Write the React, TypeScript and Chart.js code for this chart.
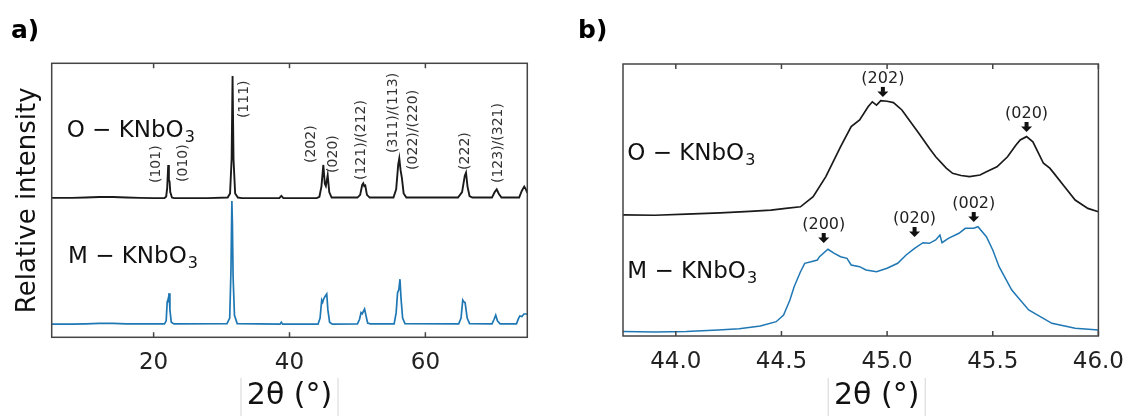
import { useEffect, useRef } from "react";
import { Chart, registerables } from "chart.js";

Chart.register(...registerables);

const FONT = "'DejaVu Sans', 'Liberation Sans', sans-serif";
const H = 416;

// ---------- shared text ----------
const SERIES_NAMES = ["O − KNbO", "M − KNbO"];
const SERIES_SUB = "3";
const X_TITLE = "2θ (°)";
const Y_TITLE = "Relative intensity";
const PANEL_LETTERS = ["a)", "b)"];

// ---------- panel a: full pattern ----------
const A_X_MIN = 5;
const A_X_MAX = 75;
const A_TICKS = [20, 40, 60];
const A_O_OFFSET = 50;
const A_M_OFFSET = 4;
const A_O_X = [5, 8, 10, 12, 14, 16, 18, 20, 21.6, 21.85, 22.0, 22.15, 22.25, 22.35, 22.45, 22.7, 23.0, 28.0, 30.9, 31.25, 31.48, 31.62, 31.76, 32.0, 32.4, 33.0, 38.5, 38.8, 39.1, 44.0, 44.4, 44.7, 44.98, 45.2, 45.35, 45.62, 45.85, 46.2, 50.0, 50.4, 50.7, 50.86, 51.0, 51.15, 51.4, 51.8, 55.3, 55.7, 56.0, 56.16, 56.35, 56.55, 56.8, 57.2, 64.8, 65.4, 65.8, 65.98, 66.2, 66.5, 66.9, 69.8, 70.2, 70.5, 70.8, 71.2, 73.8, 74.2, 74.55, 74.8, 75.0];
const A_O_Y = [0.9, 0.9, 1.0, 1.2, 1.2, 1.0, 0.9, 0.8, 0.8, 1.4, 4.5, 12.9, 7.5, 6.8, 3.0, 1.0, 0.8, 0.8, 1.0, 2.5, 15.0, 45.4, 15.0, 2.5, 1.0, 0.8, 0.8, 1.6, 0.8, 0.8, 1.3, 5.0, 12.9, 6.0, 5.2, 9.2, 3.0, 1.0, 1.0, 2.0, 5.6, 6.2, 5.2, 5.4, 2.0, 1.0, 1.0, 4.0, 13.0, 15.3, 11.0, 8.0, 2.5, 1.0, 1.0, 3.0, 9.0, 10.1, 5.0, 1.5, 1.0, 1.0, 3.0, 4.0, 2.4, 1.0, 1.0, 3.5, 5.0, 4.0, 2.7];
const A_M_X = [5, 8, 10, 12, 14, 16, 18, 21.6, 21.85, 22.0, 22.1, 22.2, 22.28, 22.4, 22.6, 23.0, 30.8, 31.2, 31.38, 31.52, 31.6, 31.7, 31.9, 32.3, 38.6, 38.8, 39.0, 44.2, 44.5, 44.74, 44.88, 45.0, 45.2, 45.48, 45.65, 45.9, 46.3, 50.0, 50.3, 50.53, 50.7, 51.05, 51.25, 51.5, 51.9, 55.4, 55.7, 55.9, 56.1, 56.26, 56.42, 56.65, 57.0, 64.9, 65.25, 65.5, 65.65, 65.85, 66.15, 66.5, 69.8, 70.1, 70.35, 70.6, 71.0, 73.4, 73.7, 73.9, 74.2, 74.5, 75.0];
const A_M_Y = [0.8, 0.8, 0.9, 1.1, 1.1, 0.9, 0.9, 0.9, 2.0, 9.0, 9.6, 10.5, 12.1, 6.0, 1.5, 0.9, 1.0, 3.0, 20.0, 45.7, 37.0, 18.0, 4.0, 1.0, 0.8, 1.5, 0.8, 0.8, 3.0, 9.6, 8.8, 9.8, 10.8, 11.8, 6.0, 1.5, 0.8, 0.9, 2.5, 5.0, 4.6, 6.3, 4.0, 1.2, 0.9, 0.9, 5.0, 12.2, 13.5, 17.2, 10.0, 3.0, 1.0, 0.9, 3.0, 9.6, 9.0, 8.6, 3.0, 1.0, 0.9, 2.5, 4.1, 2.0, 0.9, 0.9, 2.8, 3.8, 3.6, 4.5, 4.5];
const A_PEAK_TEXT = ["(101)", "(010)", "(111)", "(202)", "(020)", "(121)/(212)", "(311)/(113)", "(022)/(220)", "(222)", "(123)/(321)"];
const A_PEAK_X = [20.45, 24.4, 33.3, 43.2, 46.5, 50.6, 55.35, 58.3, 65.9, 70.8];
const A_PEAK_Y = [56.3, 56.7, 80.0, 63.6, 60.0, 57.4, 67.3, 61.1, 61.1, 56.3];
const A_NAME_X = [7.2, 7.4];
const A_NAME_Y = [73.0, 27.1];

// ---------- panel b: zoom on 44-46 ----------
const B_X_MIN = 43.75;
const B_X_MAX = 46.0;
const B_TICKS = [44.0, 44.5, 45.0, 45.5, 46.0];
const B_O_OFFSET = 44;
const B_M_OFFSET = 0;
const B_O_X = [43.75, 43.9, 44.05, 44.21, 44.35, 44.45, 44.52, 44.59, 44.65, 44.71, 44.78, 44.83, 44.87, 44.91, 44.93, 44.95, 44.97, 45.0, 45.03, 45.07, 45.15, 45.2, 45.23, 45.28, 45.31, 45.35, 45.39, 45.44, 45.47, 45.52, 45.57, 45.61, 45.63, 45.66, 45.69, 45.74, 45.77, 45.79, 45.84, 45.89, 45.95, 46.0];
const B_O_Y = [0.5, 0.4, 0.8, 1.3, 1.8, 2.3, 2.9, 3.5, 7.2, 14.6, 25.6, 33.0, 35.4, 40.3, 42.1, 40.9, 42.5, 42.3, 41.8, 39.1, 30.5, 25.0, 21.9, 17.7, 15.8, 15.0, 14.6, 15.2, 16.4, 18.2, 21.9, 26.2, 28.1, 29.3, 27.4, 19.5, 17.7, 15.8, 10.9, 6.0, 2.9, 1.7];
const B_M_X = [43.75, 43.9, 44.05, 44.2, 44.3, 44.4, 44.475, 44.51, 44.54, 44.56, 44.59, 44.61, 44.64, 44.67, 44.68, 44.72, 44.75, 44.78, 44.81, 44.83, 44.87, 44.9, 44.95, 45.0, 45.05, 45.09, 45.13, 45.17, 45.2, 45.23, 45.25, 45.26, 45.29, 45.34, 45.37, 45.41, 45.43, 45.47, 45.5, 45.53, 45.59, 45.67, 45.78, 45.89, 46.0];
const B_M_Y = [1.65, 1.5, 1.7, 2.2, 2.7, 3.7, 5.26, 7.72, 13.24, 18.13, 23.64, 26.73, 27.32, 27.94, 29.15, 31.88, 30.4, 29.15, 28.57, 26.1, 25.48, 24.26, 23.64, 24.89, 26.73, 29.78, 32.24, 34.3, 34.08, 35.29, 37.13, 34.3, 35.92, 37.76, 39.6, 39.6, 40.18, 36.51, 31.62, 25.48, 16.91, 9.56, 4.67, 2.83, 2.21];
const B_ANN_TEXT = ["(202)", "(020)", "(200)", "(020)", "(002)"];
const B_ANN_X = [44.98, 45.66, 44.7, 45.13, 45.41];
const B_ANN_Y = [87.9, 75.0, 34.2, 36.4, 41.9];
const B_NAME_X = [43.77, 43.77];
const B_NAME_Y = [64.7, 21.2];

const BLACK = "#1a1a1a";
const BLUE = "#1f77b4";

function toPoints(xs: number[], ys: number[], off: number) {
  return xs.map((x, i) => ({ x, y: ys[i] + off }));
}

type PanelCfg = {
  key: string;
  left: number;
  width: number;
  padLeft: number;
  padRight: number;
  padTop: number;
  axisH: number;
  yWidth: number;
  showY: boolean;
  xMin: number;
  xMax: number;
  ticks: number[];
  decimals: number;
  series: { x: number[]; y: number[]; off: number; color: string; width: number }[];
  nameX: number[];
  nameY: number[];
  letter: string;
  letterX: number;
  titleShift: number;
  drawPeaks: (ctx: CanvasRenderingContext2D, xs: any, ys: any) => void;
};

function drawRotatedPeaks(ctx: CanvasRenderingContext2D, xs: any, ys: any) {
  ctx.font = `14px ${FONT}`;
  ctx.fillStyle = "#333";
  ctx.textAlign = "left";
  ctx.textBaseline = "middle";
  A_PEAK_TEXT.forEach((t, i) => {
    const px = xs.getPixelForValue(A_PEAK_X[i]);
    const py = ys.getPixelForValue(A_PEAK_Y[i]);
    ctx.save();
    ctx.translate(px, py);
    ctx.rotate(-Math.PI / 2);
    ctx.fillText(t, 0, 0);
    ctx.restore();
  });
}

function drawArrowPeaks(ctx: CanvasRenderingContext2D, xs: any, ys: any) {
  B_ANN_TEXT.forEach((t, i) => {
    const px = xs.getPixelForValue(B_ANN_X[i]);
    const ty = ys.getPixelForValue(B_ANN_Y[i]);
    ctx.fillStyle = "#111";
    ctx.beginPath();
    ctx.rect(px - 2, ty - 10, 4, 5);
    ctx.fill();
    ctx.beginPath();
    ctx.moveTo(px - 5.5, ty - 5.5);
    ctx.lineTo(px + 5.5, ty - 5.5);
    ctx.lineTo(px, ty);
    ctx.closePath();
    ctx.fill();
    ctx.font = `16px ${FONT}`;
    ctx.fillStyle = "#222";
    ctx.textAlign = "center";
    ctx.textBaseline = "middle";
    ctx.fillText(t, px, ty - 18);
  });
}

function makeOverlay(p: PanelCfg) {
  return {
    id: "overlay_" + p.key,
    afterDraw(chart: any) {
      const { ctx, chartArea: ca } = chart;
      const xs = chart.scales.x;
      const ys = chart.scales.y;
      ctx.save();
      // frame
      ctx.strokeStyle = "#444";
      ctx.lineWidth = 1.5;
      ctx.strokeRect(ca.left, ca.top, ca.right - ca.left, ca.bottom - ca.top);
      // inward ticks top & bottom
      ctx.beginPath();
      p.ticks.forEach((v) => {
        const px = xs.getPixelForValue(v);
        ctx.moveTo(px, ca.top);
        ctx.lineTo(px, ca.top + 5);
        ctx.moveTo(px, ca.bottom);
        ctx.lineTo(px, ca.bottom - 5);
      });
      ctx.stroke();
      // series names
      SERIES_NAMES.forEach((n, i) => {
        const px = xs.getPixelForValue(p.nameX[i]);
        const py = ys.getPixelForValue(p.nameY[i]);
        ctx.font = `23px ${FONT}`;
        ctx.fillStyle = "#111";
        ctx.textAlign = "left";
        ctx.textBaseline = "alphabetic";
        ctx.fillText(n, px, py);
        const w = ctx.measureText(n).width;
        ctx.font = `16px ${FONT}`;
        ctx.fillText(SERIES_SUB, px + w + 1, py + 5);
      });
      // peak labels
      p.drawPeaks(ctx, xs, ys);
      // x title with thin box edges
      const cx = (ca.left + ca.right) / 2 + p.titleShift;
      ctx.font = `30px ${FONT}`;
      ctx.fillStyle = "#111";
      ctx.textAlign = "center";
      ctx.textBaseline = "middle";
      ctx.fillText(X_TITLE, cx, 396);
      ctx.strokeStyle = "#d4d4d4";
      ctx.lineWidth = 1;
      ctx.beginPath();
      ctx.moveTo(cx - 48.5, 378);
      ctx.lineTo(cx - 48.5, H);
      ctx.moveTo(cx + 48.5, 378);
      ctx.lineTo(cx + 48.5, H);
      ctx.stroke();
      // panel letter
      ctx.font = `bold 25px ${FONT}`;
      ctx.fillStyle = "#000";
      ctx.textAlign = "left";
      ctx.textBaseline = "alphabetic";
      ctx.fillText(p.letter, p.letterX, 38);
      ctx.restore();
    },
  };
}

const PANELS: PanelCfg[] = [
  {
    key: "a",
    left: 0,
    width: 560,
    padLeft: 0,
    padRight: 560 - 527.3,
    padTop: 63.3,
    axisH: H - 337.3,
    yWidth: 51.7,
    showY: true,
    xMin: A_X_MIN,
    xMax: A_X_MAX,
    ticks: A_TICKS,
    decimals: 0,
    series: [
      { x: A_O_X, y: A_O_Y, off: A_O_OFFSET, color: BLACK, width: 1.9 },
      { x: A_M_X, y: A_M_Y, off: A_M_OFFSET, color: BLUE, width: 1.7 },
    ],
    nameX: A_NAME_X,
    nameY: A_NAME_Y,
    letter: PANEL_LETTERS[0],
    letterX: 11,
    titleShift: 0,
    drawPeaks: drawRotatedPeaks,
  },
  {
    key: "b",
    left: 560,
    width: 568,
    padLeft: 63,
    padRight: 29,
    padTop: 64,
    axisH: H - 336,
    yWidth: 0,
    showY: false,
    xMin: B_X_MIN,
    xMax: B_X_MAX,
    ticks: B_TICKS,
    decimals: 1,
    series: [
      { x: B_O_X, y: B_O_Y, off: B_O_OFFSET, color: BLACK, width: 1.7 },
      { x: B_M_X, y: B_M_Y, off: B_M_OFFSET, color: BLUE, width: 1.5 },
    ],
    nameX: B_NAME_X,
    nameY: B_NAME_Y,
    letter: PANEL_LETTERS[1],
    letterX: 18,
    titleShift: 16,
    drawPeaks: drawArrowPeaks,
  },
];

function Panel({ p }: { p: PanelCfg }) {
  const ref = useRef<HTMLCanvasElement>(null);
  useEffect(() => {
    const chart = new Chart(ref.current as HTMLCanvasElement, {
      type: "line",
      data: {
        datasets: p.series.map((s) => ({
          data: toPoints(s.x, s.y, s.off),
          borderColor: s.color,
          borderWidth: s.width,
          pointRadius: 0,
          tension: 0,
          fill: false,
        })),
      },
      options: {
        responsive: false,
        animation: false,
        devicePixelRatio: 1,
        layout: { padding: { left: p.padLeft, right: p.padRight, top: p.padTop, bottom: 0 } },
        plugins: { legend: { display: false }, tooltip: { enabled: false } },
        scales: {
          x: {
            type: "linear",
            min: p.xMin,
            max: p.xMax,
            afterBuildTicks: (s: any) => {
              s.ticks = p.ticks.map((v) => ({ value: v }));
            },
            ticks: {
              font: { family: FONT, size: 23 },
              color: "#222",
              padding: 4,
              maxRotation: 0,
              autoSkip: false,
              callback: (v: any) => Number(v).toFixed(p.decimals),
            },
            grid: { display: false },
            border: { display: false },
            afterFit: (s: any) => {
              s.height = p.axisH;
            },
          },
          y: {
            type: "linear",
            min: 0,
            max: 100,
            display: p.showY,
            ticks: { display: false },
            grid: { display: false },
            border: { display: false },
            title: {
              display: p.showY,
              text: Y_TITLE,
              font: { family: FONT, size: 26 },
              color: "#111",
              padding: { top: 13, bottom: 0 },
            },
            afterFit: (s: any) => {
              s.width = p.yWidth;
            },
          },
        },
      } as any,
      plugins: [makeOverlay(p)],
    });
    return () => chart.destroy();
  }, []);
  return (
    <canvas
      ref={ref}
      width={p.width}
      height={H}
      style={{ position: "absolute", left: p.left, top: 0, width: p.width, height: H }}
    />
  );
}

export default function App() {
  return (
    <div style={{ position: "fixed", left: 0, top: 0, width: 1128, height: H, background: "#fff" }}>
      {PANELS.map((p) => (
        <Panel key={p.key} p={p} />
      ))}
    </div>
  );
}
